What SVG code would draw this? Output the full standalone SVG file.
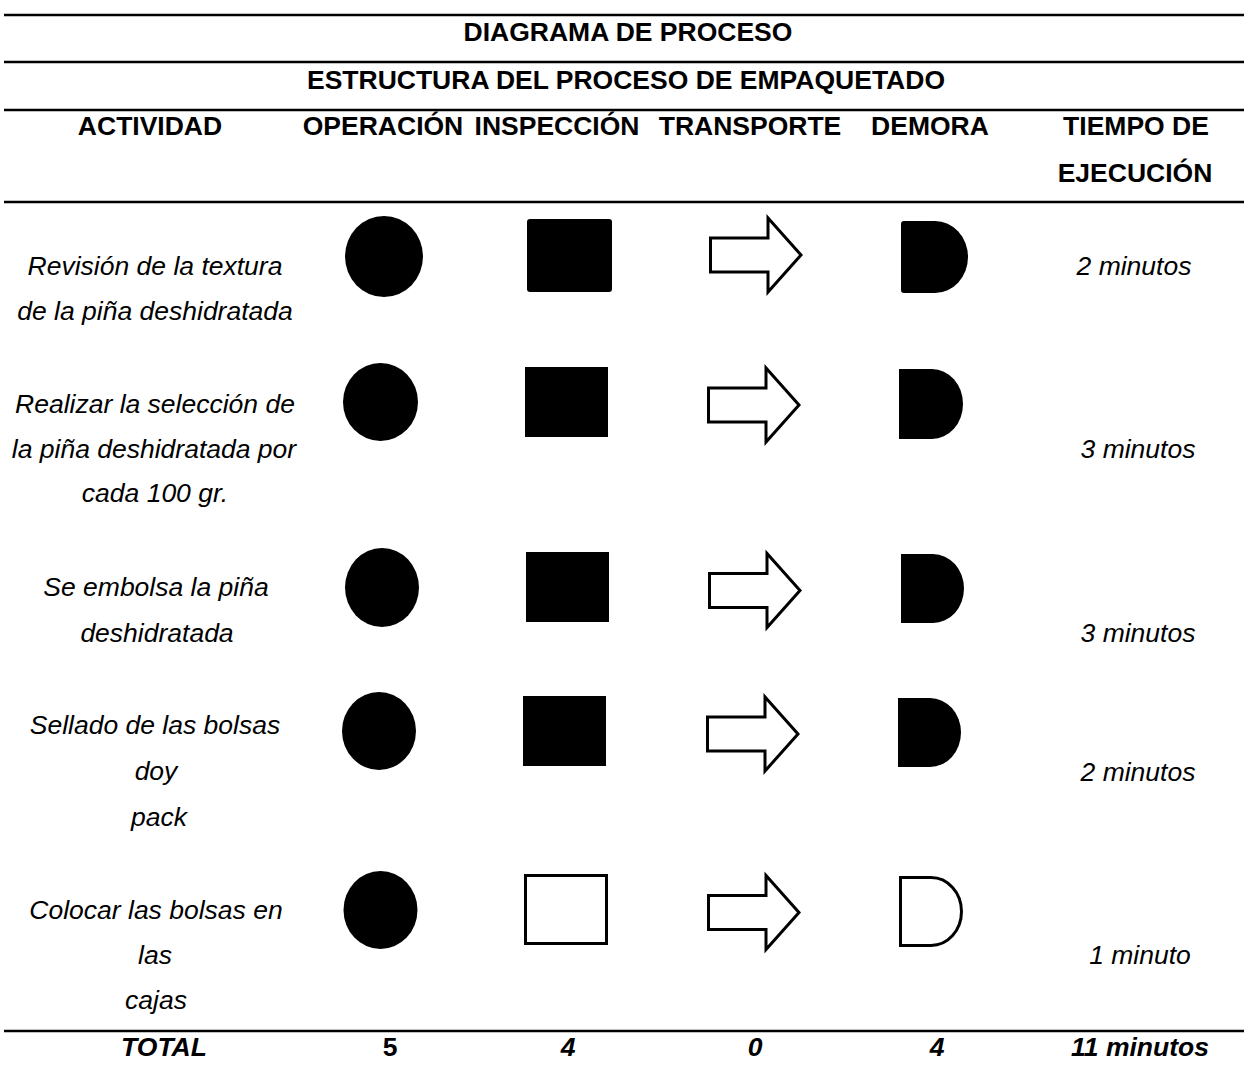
<svg xmlns="http://www.w3.org/2000/svg" width="1244" height="1072" viewBox="0 0 1244 1072">
<style>
  .t { font-family: "Liberation Sans", Arial, sans-serif; font-size: 26.5px; fill: #000; text-anchor: middle; }
  .b { font-weight: bold; }
  .i { font-style: italic; }
  .rule { stroke: #000; stroke-width: 2.5; }
  .solid { fill: #000; stroke: none; }
  .open { fill: #fff; stroke: #000; stroke-width: 3; stroke-linejoin: miter; }
</style>
<defs>
  <polygon id="arrow" points="1.5,-17 59,-17 59,-37 92,0 59,37 59,17 1.5,17"/>
</defs>
<rect width="1244" height="1072" fill="#fff"/>

<g id="rules">
  <line class="rule" x1="4" y1="15" x2="1244" y2="15"/>
  <line class="rule" x1="4" y1="62" x2="1244" y2="62"/>
  <line class="rule" x1="4" y1="110" x2="1244" y2="110"/>
  <line class="rule" x1="4" y1="202" x2="1244" y2="202"/>
  <line class="rule" x1="4" y1="1031" x2="1244" y2="1031"/>
</g>

<g id="titles">
  <text class="t b" x="628" y="41">DIAGRAMA DE PROCESO</text>
  <text class="t b" x="626" y="89">ESTRUCTURA DEL PROCESO DE EMPAQUETADO</text>
</g>

<g id="header">
  <text class="t b" x="150" y="135">ACTIVIDAD</text>
  <text class="t b" x="383" y="135">OPERACIÓN</text>
  <text class="t b" x="557" y="135">INSPECCIÓN</text>
  <text class="t b" x="750" y="135">TRANSPORTE</text>
  <text class="t b" x="930" y="135">DEMORA</text>
  <text class="t b" x="1136" y="135">TIEMPO DE</text>
  <text class="t b" x="1135" y="182">EJECUCIÓN</text>
</g>

<g id="row1">
  <text class="t i" x="155" y="275">Revisión de la textura</text>
  <text class="t i" x="155" y="320">de la piña deshidratada</text>
  <ellipse class="solid" cx="384" cy="256.5" rx="39" ry="40.5"/>
  <rect class="solid" x="527" y="219" width="85" height="73" rx="3"/>
  <use href="#arrow" class="open" transform="translate(709,255)"/>
  <path class="solid" d="M904,221 H935 A33,36 0 0 1 935,293 H904 Q901,293 901,290 V224 Q901,221 904,221 Z"/>
  <text class="t i" x="1134" y="275">2 minutos</text>
</g>

<g id="row2">
  <text class="t i" x="155" y="413">Realizar la selección de</text>
  <text class="t i" x="154" y="458">la piña deshidratada por</text>
  <text class="t i" x="155" y="502">cada 100 gr.</text>
  <ellipse class="solid" cx="380.5" cy="402" rx="37.5" ry="39"/>
  <rect class="solid" x="525" y="367" width="83" height="70"/>
  <use href="#arrow" class="open" transform="translate(707,405)"/>
  <path class="solid" d="M899,369 H932 A31,35 0 0 1 932,439 H899 Z"/>
  <text class="t i" x="1138" y="458">3 minutos</text>
</g>

<g id="row3">
  <text class="t i" x="156" y="596">Se embolsa la piña</text>
  <text class="t i" x="157" y="642">deshidratada</text>
  <ellipse class="solid" cx="382" cy="587.5" rx="37" ry="39.5"/>
  <rect class="solid" x="526" y="552" width="83" height="70"/>
  <use href="#arrow" class="open" transform="translate(708,590.5)"/>
  <path class="solid" d="M901,554 H933 A31,34.5 0 0 1 933,623 H901 Z"/>
  <text class="t i" x="1138" y="642">3 minutos</text>
</g>

<g id="row4">
  <text class="t i" x="155" y="734">Sellado de las bolsas</text>
  <text class="t i" x="156" y="780">doy</text>
  <text class="t i" x="159" y="826">pack</text>
  <ellipse class="solid" cx="379" cy="731" rx="37" ry="39"/>
  <rect class="solid" x="523" y="696" width="83" height="70"/>
  <use href="#arrow" class="open" transform="translate(706,734)"/>
  <path class="solid" d="M898,698 H930 A31,34.5 0 0 1 930,767 H898 Z"/>
  <text class="t i" x="1138" y="781">2 minutos</text>
</g>

<g id="row5">
  <text class="t i" x="156" y="919">Colocar las bolsas en</text>
  <text class="t i" x="155" y="964">las</text>
  <text class="t i" x="156" y="1009">cajas</text>
  <ellipse class="solid" cx="380.5" cy="910" rx="37" ry="39"/>
  <rect class="open" x="525.5" y="875.5" width="81" height="68"/>
  <use href="#arrow" class="open" transform="translate(707,912.5)"/>
  <path class="open" d="M900.5,877.5 H931 A30.5,34 0 0 1 931,945.5 H900.5 Z"/>
  <text class="t i" x="1140" y="964">1 minuto</text>
</g>

<g id="totals">
  <text class="t b i" x="164" y="1056">TOTAL</text>
  <text class="t b" x="390" y="1056">5</text>
  <text class="t b i" x="568" y="1056">4</text>
  <text class="t b i" x="755" y="1056">0</text>
  <text class="t b i" x="937" y="1056">4</text>
  <text class="t b i" x="1140" y="1056">11 minutos</text>
</g>
</svg>
